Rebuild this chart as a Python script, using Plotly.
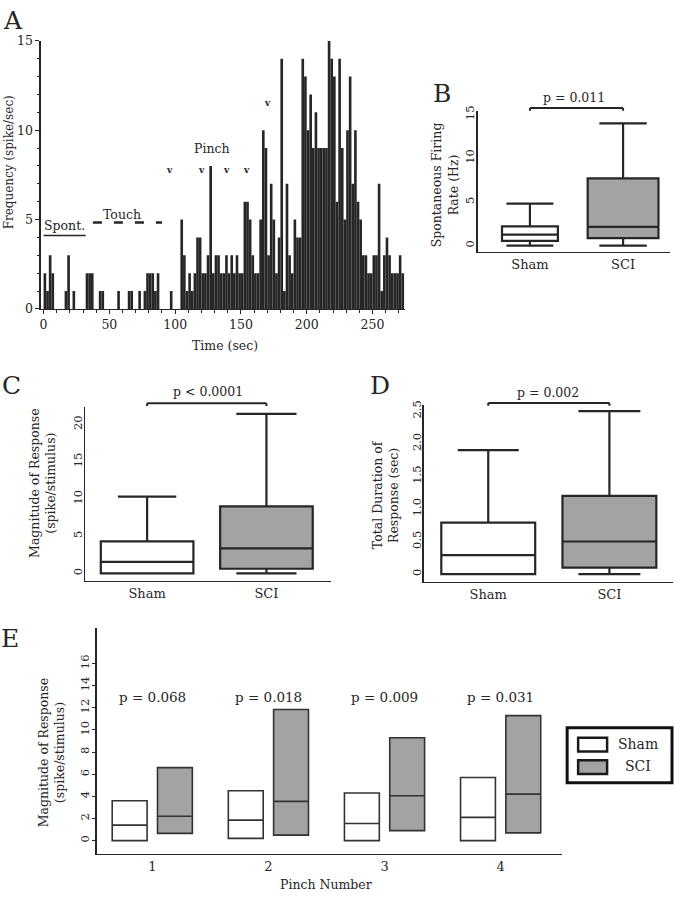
import plotly.graph_objects as go

# ---------------- data ----------------
# Panel A: peri-stimulus firing histogram, 2-s bins starting at 0 s
bin_width_sec = 2
firing_counts = [2, 1, 3, 2, 0, 0, 0, 0, 1, 3,
                 0, 1, 0, 0, 0, 0, 2, 2, 2, 0,
                 0, 1, 1, 0, 0, 0, 0, 0, 1, 0,
                 0, 0, 1, 1, 0, 0, 1, 0, 1, 2,
                 2, 2, 1, 2, 0, 0, 0, 0, 1, 0,
                 0, 0, 5, 3, 1, 2, 1, 2, 4, 4,
                 2, 2, 3, 8, 2, 3, 3, 2, 2, 3,
                 2, 3, 2, 3, 2, 2, 6, 6, 5, 3,
                 2, 2, 5, 10, 9, 3, 7, 5, 2, 4,
                 14, 1, 7, 3, 2, 5, 4, 4, 14, 13,
                 10, 12, 9, 11, 9, 9, 9, 9, 15, 14,
                 13, 6, 14, 9, 5, 10, 13, 7, 10, 6,
                 5, 3, 3, 2, 2, 3, 3, 7, 1, 3,
                 4, 3, 2, 2, 2, 3, 2]
pinch_times = [96, 120, 139, 154, 170, 194]
time_ticks = [0, 50, 100, 150, 200, 250]

groups = ["Sham", "SCI"]
# box statistics: [lower whisker, q1, median, q3, upper whisker]
spont_sham = [0, 0.56, 1.27, 2.2, 4.8]
spont_sci = [0, 0.86, 2.14, 7.7, 14.0]
mag_sham = [0, 0, 1.55, 4.3, 10.3]
mag_sci = [0, 0.62, 3.35, 9.0, 21.4]
dur_sham = [0, 0, 0.29, 0.79, 1.9]
dur_sci = [0, 0.1, 0.5, 1.2, 2.5]
p_B, p_C, p_D = "p = 0.011", "p < 0.0001", "p = 0.002"

# Panel E: per-pinch magnitude, boxes q1 / median / q3
pinch_number = [1, 2, 3, 4]
e_sham_q1 = [0, 0.2, 0, 0]
e_sham_med = [1.4, 1.85, 1.55, 2.1]
e_sham_q3 = [3.6, 4.5, 4.3, 5.7]
e_sci_q1 = [0.65, 0.5, 0.9, 0.7]
e_sci_med = [2.2, 3.55, 4.05, 4.2]
e_sci_q3 = [6.6, 11.85, 9.3, 11.3]
e_pvalues = ["p = 0.068", "p = 0.018", "p = 0.009", "p = 0.031"]

# ---------------- styling ----------------
W, H = 675, 900
FONT = "DejaVu Serif"
INK = "#262626"
GRAY = "#a3a3a3"


def dx(a, b):
    return [a / W, b / W]


def dy(top, bottom):
    return [1 - bottom / H, 1 - top / H]


def px(x):
    return x / W


def py(y):
    return 1 - y / H


fig = go.Figure()

# ---- Panel A ----
bin_centers = [i * bin_width_sec + bin_width_sec / 2 for i in range(len(firing_counts))]
fig.add_trace(go.Bar(x=bin_centers, y=firing_counts, width=bin_width_sec,
                     marker=dict(color=INK, line=dict(width=0)),
                     xaxis="x", yaxis="y", showlegend=False, hoverinfo="skip"))


def add_box(name, stats, xa, ya, fill, width, ww):
    fig.add_trace(go.Box(
        x=[name], lowerfence=[stats[0]], q1=[stats[1]], median=[stats[2]],
        q3=[stats[3]], upperfence=[stats[4]], width=width, whiskerwidth=ww,
        fillcolor=fill, line=dict(color=INK, width=2.2), boxpoints=False,
        xaxis=xa, yaxis=ya, showlegend=False, hoverinfo="skip"))


# ---- Panel B ----
add_box("Sham", spont_sham, "x2", "y2", "white", 0.6, 0.84)
add_box("SCI", spont_sci, "x2", "y2", GRAY, 0.76, 0.67)
# ---- Panel C ----
add_box("Sham", mag_sham, "x3", "y3", "white", 0.776, 0.63)
add_box("SCI", mag_sci, "x3", "y3", GRAY, 0.776, 0.65)
# ---- Panel D ----
add_box("Sham", dur_sham, "x4", "y4", "white", 0.775, 0.65)
add_box("SCI", dur_sci, "x4", "y4", GRAY, 0.775, 0.66)

# ---- Panel E ----
fig.add_trace(go.Box(x=pinch_number, q1=e_sham_q1, median=e_sham_med, q3=e_sham_q3,
                     lowerfence=e_sham_q1, upperfence=e_sham_q3, whiskerwidth=0,
                     name="Sham", fillcolor="white", line=dict(color="#333333", width=1.6),
                     boxpoints=False, offsetgroup="sham", alignmentgroup="E",
                     xaxis="x5", yaxis="y5", hoverinfo="skip", showlegend=False))
fig.add_trace(go.Box(x=pinch_number, q1=e_sci_q1, median=e_sci_med, q3=e_sci_q3,
                     lowerfence=e_sci_q1, upperfence=e_sci_q3, whiskerwidth=0,
                     name="SCI", fillcolor=GRAY, line=dict(color="#333333", width=1.6),
                     boxpoints=False, offsetgroup="sci", alignmentgroup="E",
                     xaxis="x5", yaxis="y5", hoverinfo="skip", showlegend=False))

axis_common = dict(showline=True, linecolor=INK, linewidth=1.5, showgrid=False,
                   zeroline=False)
tf_big = dict(family=FONT, size=12.5, color=INK)
tf_cat = dict(family=FONT, size=13, color=INK)
tf_rot = dict(family=FONT, size=11.5, color=INK)

RA_Y = [0, 15]
RB_Y = [-0.675, 15.38]
RC_Y = [-0.97, 22.3]
RD_Y = [-0.115, 2.6]
RE_Y = [-1.18, 19.26]

fig.update_layout(
    width=W, height=H, margin=dict(l=0, r=0, t=0, b=0),
    paper_bgcolor="white", plot_bgcolor="white",
    font=dict(family=FONT, size=12, color=INK),
    showlegend=False,
    boxmode="group", boxgap=0.22, boxgroupgap=0.23,
    xaxis=dict(domain=dx(40, 405), anchor="y", range=[-2, 275], tickvals=time_ticks,
               ticks="outside", ticklen=4, tickcolor=INK, tickfont=tf_big,
               minor=dict(dtick=10, ticks="outside", ticklen=2.5, tickcolor=INK), **axis_common),
    yaxis=dict(domain=dy(33.3, 306), anchor="x", range=RA_Y, tickvals=[0, 5, 10, 15],
               ticks="outside", ticklen=4, tickcolor=INK, tickfont=tf_big,
               minor=dict(dtick=1, ticks="outside", ticklen=2.5, tickcolor=INK), **axis_common),
    xaxis2=dict(domain=dx(477.3, 670), anchor="y2", type="category", categoryorder="array",
                categoryarray=groups, range=[-0.562, 1.504], ticks="", tickfont=tf_cat,
                **axis_common),
    yaxis2=dict(domain=dy(105, 247.7), anchor="x2", range=RB_Y, tickvals=[0, 5, 10, 15],
                tickangle=-90, ticks="", tickfont=tf_rot, ticklabelstandoff=-3, **axis_common),
    xaxis3=dict(domain=dx(84.3, 330), anchor="y3", type="category", categoryorder="array",
                categoryarray=groups, range=[-0.519, 1.537], ticks="", tickfont=tf_cat,
                **axis_common),
    yaxis3=dict(domain=dy(406, 582.3), anchor="x3", range=RC_Y, tickvals=[0, 5, 10, 15, 20],
                tickangle=-90, ticks="", tickfont=tf_rot, ticklabelstandoff=-3, **axis_common),
    xaxis4=dict(domain=dx(423.3, 673), anchor="y4", type="category", categoryorder="array",
                categoryarray=groups, range=[-0.533, 1.525], ticks="", tickfont=tf_cat,
                **axis_common),
    yaxis4=dict(domain=dy(403.3, 583.3), anchor="x4", range=RD_Y,
                tickvals=[0, 0.5, 1.0, 1.5, 2.0, 2.5],
                ticktext=["0", "0.5", "1.0", "1.5", "2.0", "2.5"],
                tickangle=-90, ticks="", tickfont=tf_rot, ticklabelstandoff=-3, **axis_common),
    xaxis5=dict(domain=dx(95.7, 562), anchor="y5", range=[0.52, 4.53], tickvals=pinch_number,
                ticks="", tickfont=tf_cat, **axis_common),
    yaxis5=dict(domain=dy(630, 860), anchor="x5", range=RE_Y,
                tickvals=[0, 2, 4, 6, 8, 10, 12, 14, 16], tickangle=-90,
                ticks="outside", ticklen=3, tickcolor=INK, tickfont=tf_rot,
                ticklabelstandoff=-2, **axis_common),
)

ann = []
shapes = []


def text(x, y, s, size=12.5, xref="paper", yref="paper", angle=0, **kw):
    ann.append(dict(x=x, y=y, xref=xref, yref=yref, text=s, showarrow=False,
                    textangle=angle, font=dict(family=FONT, size=size, color=INK), **kw))


# panel letters
for letter, (lx, ly) in {"A": (12, 13), "B": (442, 87), "C": (11, 384),
                         "D": (380, 384), "E": (9, 641)}.items():
    text(px(lx), py(ly), letter, size=25, xanchor="center", yanchor="middle")

# axis titles
text(px(8), py(157), "Frequency (spike/sec)", size=12, angle=-90, xanchor="center", yanchor="middle")
text(px(224), py(343), "Time (sec)", xanchor="center", yanchor="middle")
text(px(445), py(180), "Spontaneous Firing<br>Rate (Hz)", angle=-90, xanchor="center", yanchor="middle")
text(px(42), py(483), "Magnitude of Response<br>(spike/stimulus)", angle=-90, xanchor="center", yanchor="middle")
text(px(385), py(495), "Total Duration of<br>Response (sec)", angle=-90, xanchor="center", yanchor="middle")
text(px(50), py(757), "Magnitude of Response<br>(spike/stimulus)", angle=-90, xanchor="center", yanchor="middle")
text(px(325), py(891), "Pinch Number", xanchor="center", yanchor="middle")

# panel A stimulus annotations
shapes.append(dict(type="line", xref="x", yref="y", x0=0, x1=32, y0=4.1, y1=4.1,
                   line=dict(color=INK, width=1.5)))
text(15.6, 4.15, "Spont.", xref="x", yref="y", size=12.5, xanchor="center", yanchor="bottom")
shapes.append(dict(type="line", xref="x", yref="y", x0=37.5, x1=90, y0=4.83, y1=4.83,
                   line=dict(color=INK, width=2.5, dash="9px,12px")))
text(59.7, 5.3, "Touch", xref="x", yref="y", size=12.5, xanchor="center", yanchor="middle")
text(128, 8.95, "Pinch", xref="x", yref="y", size=12.5, xanchor="center", yanchor="middle")
chevron_levels = [7.75, 7.75, 7.75, 7.75, 11.5, 15.1]
for t, lv in zip(pinch_times, chevron_levels):
    text(t, lv, "<b>v</b>", xref="x", yref="y", size=9, xanchor="center", yanchor="middle")


# significance brackets
def bracket(xa, ya, rng, y_top, tip, label, label_y):
    yd = lambda v: (v - rng[0]) / (rng[1] - rng[0])
    yr = ya + " domain"
    line = dict(color=INK, width=2)
    shapes.append(dict(type="line", xref=xa, yref=yr, x0="Sham", x1="SCI",
                       y0=yd(y_top), y1=yd(y_top), line=line))
    for g in groups:
        shapes.append(dict(type="line", xref=xa, yref=yr, x0=g, x1=g,
                           y0=yd(y_top), y1=yd(y_top - tip), line=line))
    ann.append(dict(x=0.5, y=yd(label_y), xref=xa + " domain", yref=yr, text=label,
                    showarrow=False, xanchor="center", yanchor="middle",
                    font=dict(family=FONT, size=12.5, color=INK)))


bracket("x2", "y2", RB_Y, 15.75, 0.3, p_B, 16.9)
bracket("x3", "y3", RC_Y, 22.85, 0.4, p_C, 24.4)
bracket("x4", "y4", RD_Y, 2.626, 0.045, p_D, 2.79)

for pn, pv in zip(pinch_number, e_pvalues):
    text(pn, 12.95, pv, xref="x5", yref="y5", size=13.5, xanchor="center", yanchor="middle")

# Panel E legend (drawn box with swatches)
shapes.append(dict(type="rect", xref="paper", yref="paper", x0=px(567), x1=px(672),
                   y0=py(788), y1=py(732), line=dict(color="#111111", width=3),
                   fillcolor="white"))
for label, fill, ytop in (("Sham", "white", 742), ("SCI", GRAY, 765)):
    shapes.append(dict(type="rect", xref="paper", yref="paper", x0=px(578), x1=px(607),
                       y0=py(ytop + 14), y1=py(ytop), line=dict(color="#1a1a1a", width=2.5),
                       fillcolor=fill))
    text(px(638), py(ytop + 6), label, size=14, xanchor="center", yanchor="middle")

fig.update_layout(annotations=ann, shapes=shapes)
fig.write_html("out.html",
               config={"displayModeBar": False, "staticPlot": True},
               post_script="document.body.style.margin='0px';"
                           "document.body.style.overflow='hidden';")
